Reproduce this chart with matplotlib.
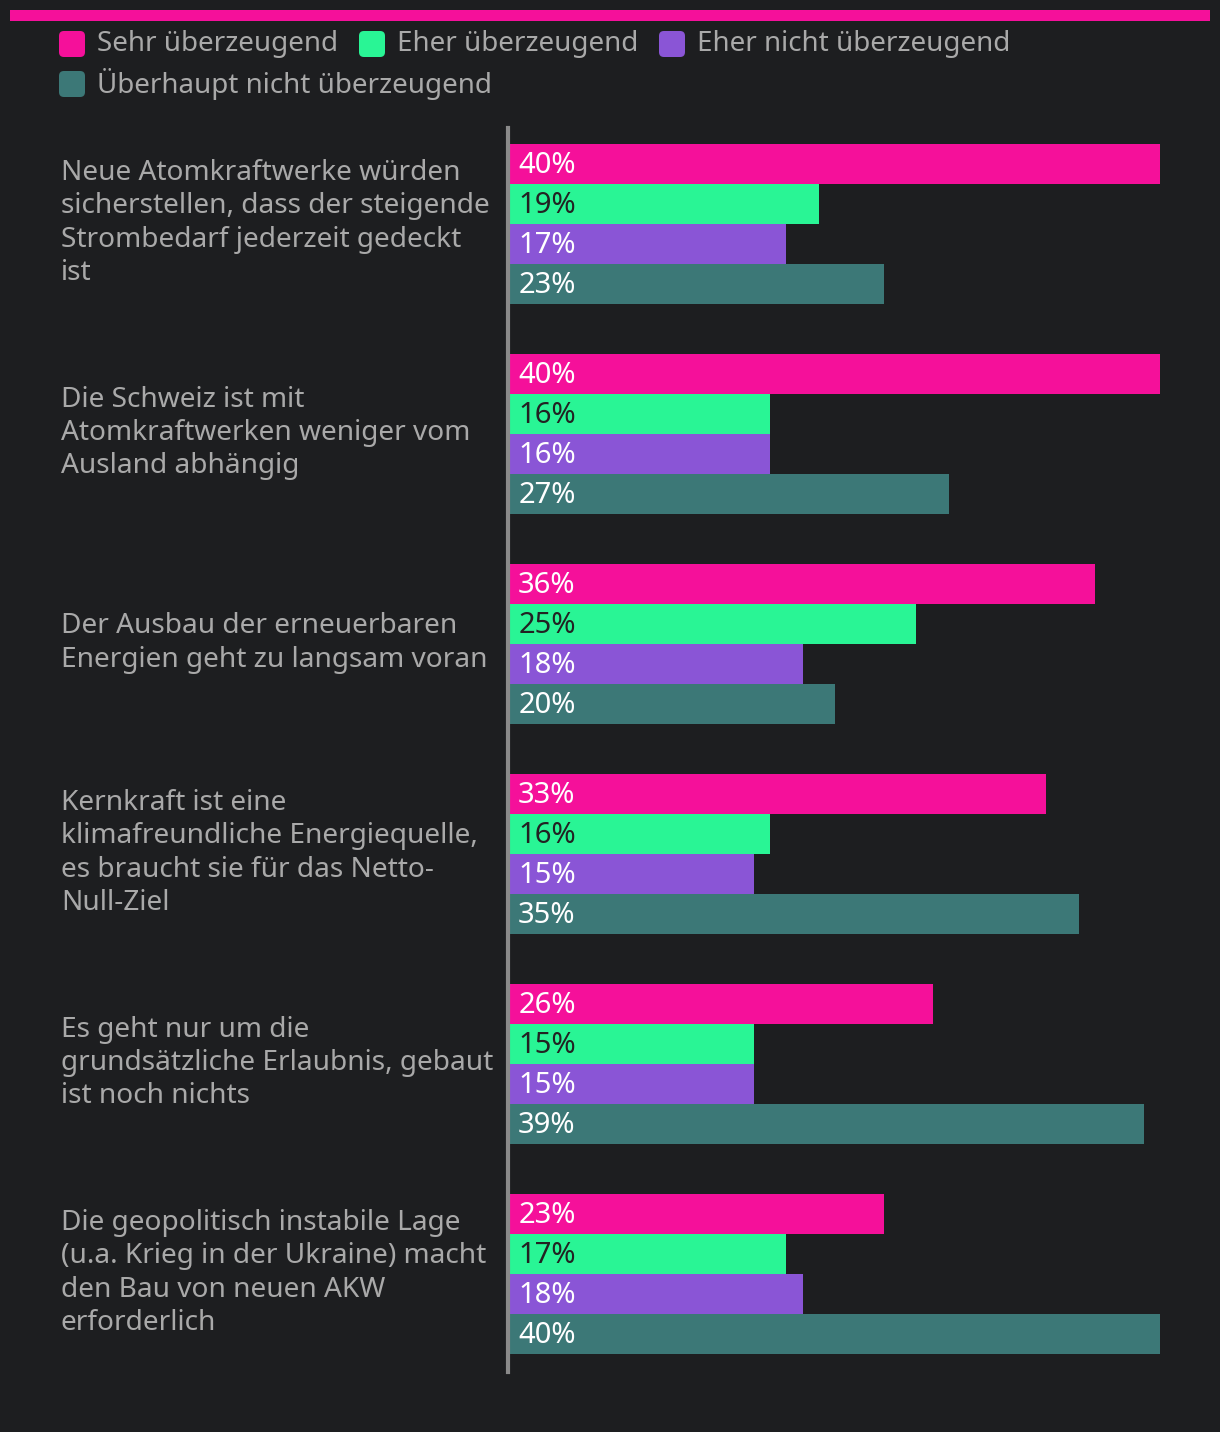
import matplotlib
matplotlib.use("Agg")
import matplotlib.pyplot as plt
from matplotlib.patches import FancyBboxPatch, Rectangle

# Daten
kategorien = [
    "Neue Atomkraftwerke würden\nsicherstellen, dass der steigende\nStrombedarf jederzeit gedeckt\nist",
    "Die Schweiz ist mit\nAtomkraftwerken weniger vom\nAusland abhängig",
    "Der Ausbau der erneuerbaren\nEnergien geht zu langsam voran",
    "Kernkraft ist eine\nklimafreundliche Energiequelle,\nes braucht sie für das Netto-\nNull-Ziel",
    "Es geht nur um die\ngrundsätzliche Erlaubnis, gebaut\nist noch nichts",
    "Die geopolitisch instabile Lage\n(u.a. Krieg in der Ukraine) macht\nden Bau von neuen AKW\nerforderlich",
]
serien = ["Sehr überzeugend", "Eher überzeugend", "Eher nicht überzeugend",
          "Überhaupt nicht überzeugend"]
sehr = [40, 40, 36, 33, 26, 23]
eher = [19, 16, 25, 16, 15, 17]
eher_nicht = [17, 16, 18, 15, 15, 18]
ueberhaupt_nicht = [23, 27, 20, 35, 39, 40]

farben = ["#F5109A", "#29F595", "#8A55D6", "#3C7877"]
textfarben = ["white", "#222222", "white", "white"]
BG = "#1D1E20"
GRAU = "#A9A9A9"

plt.rcParams['font.family'] = ['Noto Sans', 'DejaVu Sans']

W, H = 1220, 1432
fig = plt.figure(figsize=(W / 100, H / 100), dpi=100, facecolor=BG)

# Achse: x von 510 bis 1160 px, y von 128 bis 1372 px
ax = fig.add_axes([510 / W, 1 - 1372 / H, 650 / W, 1244 / H], facecolor=BG)
ax.set_xlim(0, 40)
ax.set_ylim(5 + 98 / 210, -96 / 210)

h = 40 / 210
offsets = [-1.5 * h, -0.5 * h, 0.5 * h, 1.5 * h]
werte = [sehr, eher, eher_nicht, ueberhaupt_nicht]
for s, vals in enumerate(werte):
    ys = [i + offsets[s] for i in range(len(kategorien))]
    ax.barh(ys, vals, height=h, color=farben[s], linewidth=0)
    for y, v in zip(ys, vals):
        ax.text(0.5, y - 0.008, f"{v}%", color=textfarben[s], fontsize=21,
                va="center_baseline", ha="left")

for i, k in enumerate(kategorien):
    ax.text(-449 / 650 * 40, i - 0.005, k, color=GRAU, fontsize=20.2, va="center",
            ha="left", linespacing=1.25, clip_on=False)

for sp in ["top", "right", "bottom"]:
    ax.spines[sp].set_visible(False)
ax.spines["left"].set_color("#8A8A8A")
ax.spines["left"].set_linewidth(3)
ax.spines["left"].set_position(("data", -0.12))
ax.set_xticks([])
ax.set_yticks([])

# Linie oben
fig.add_artist(Rectangle((10 / W, 1 - 21 / H), 1200 / W, 11 / H,
                         transform=fig.transFigure, color="#F5109A", lw=0))

# Legende
legende_pos = [(59, 31), (359, 31), (659, 31), (59, 71)]
for (x, y), farbe, name in zip(legende_pos, farben, serien):
    fig.add_artist(FancyBboxPatch((x / W, 1 - (y + 26) / H), 26 / W, 26 / H,
                                  boxstyle="round,pad=0,rounding_size=0.004",
                                  transform=fig.transFigure, color=farbe, lw=0,
                                  mutation_aspect=W / H))
    fig.text((x + 38) / W, 1 - (y + 13) / H, name, color=GRAU, fontsize=20,
             va="center", ha="left")

fig.savefig("out.png", dpi=100, facecolor=BG)
